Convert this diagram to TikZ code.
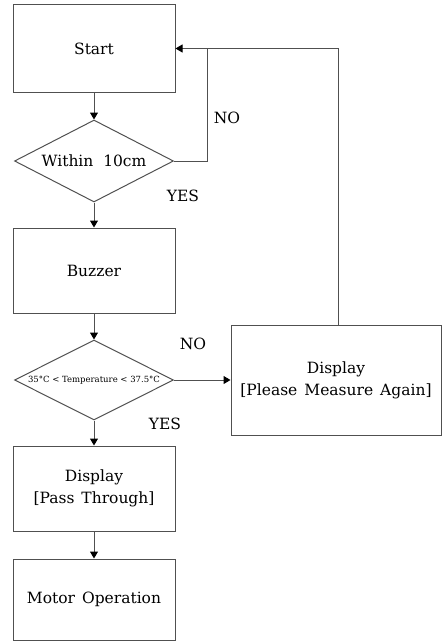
\documentclass[tikz,border=0pt]{standalone}
\usepackage{fontspec}
\setmainfont{DejaVu Serif}
\usetikzlibrary{shapes.geometric,arrows.meta}
\begin{document}
\begin{tikzpicture}[x=1pt,y=1pt,
  every node/.style={font=\fontsize{15.5}{19}\selectfont},
  stepbox/.style={draw=linegray,line width=1pt,rectangle,inner sep=0pt,align=center},
  decision/.style={draw=linegray,line width=1pt,diamond,shape aspect=2,inner sep=0pt,align=center},
  conn/.style={draw=linegray,line width=1pt},
  arr/.style={conn,-{Triangle[length=7pt,width=8pt,color=black]}},
  lab/.style={inner sep=0pt}]
\definecolor{linegray}{RGB}{80,80,80}
\useasboundingbox (0,0) rectangle (442,-642);
\node[stepbox,minimum width=162pt,minimum height=87pt] (start) at (94,-48.5) {Start};
\node[decision,minimum width=159pt,minimum height=82pt] (d1) at (94,-161) {Within\ \ 10cm};
\node[stepbox,minimum width=162pt,minimum height=85pt] (buzz) at (94,-270.5) {Buzzer};
\node[decision,minimum width=159pt,minimum height=80pt,font=\fontsize{8.5}{10}\selectfont] (d2) at (94,-380) {35°C < Temperature < 37.5°C};
\node[stepbox,minimum width=210pt,minimum height=110pt] (disp) at (336,-380) {Display\\[3pt][Please\hspace{7pt}Measure\hspace{7pt}Again]};
\node[stepbox,minimum width=162pt,minimum height=85pt] (pass) at (94,-488.5) {Display\\[3pt][Pass\hspace{7pt}Through]};
\node[stepbox,minimum width=162pt,minimum height=81pt] (motor) at (94,-599.5) {Motor\hspace{7pt}Operation};
\coordinate (j) at (207,-48.5);
\draw[arr] (start) -- (d1);
\draw[arr] (d1) -- (buzz);
\draw[arr] (buzz) -- (d2);
\draw[arr] (d2) -- (pass);
\draw[arr] (pass) -- (motor);
\draw[arr] (d2.east) -- (disp.west);
\draw[conn] (d1.east) -| (j);
\draw[arr] ([xshift=2pt]disp.north) |- (start.east);
\node[lab] (no1) at (227,-118) {NO};
\node[lab] (yes1) at (183,-196) {YES};
\node[lab] (no2) at (193,-344) {NO};
\node[lab] (yes2) at (165,-424) {YES};
\end{tikzpicture}
\end{document}
